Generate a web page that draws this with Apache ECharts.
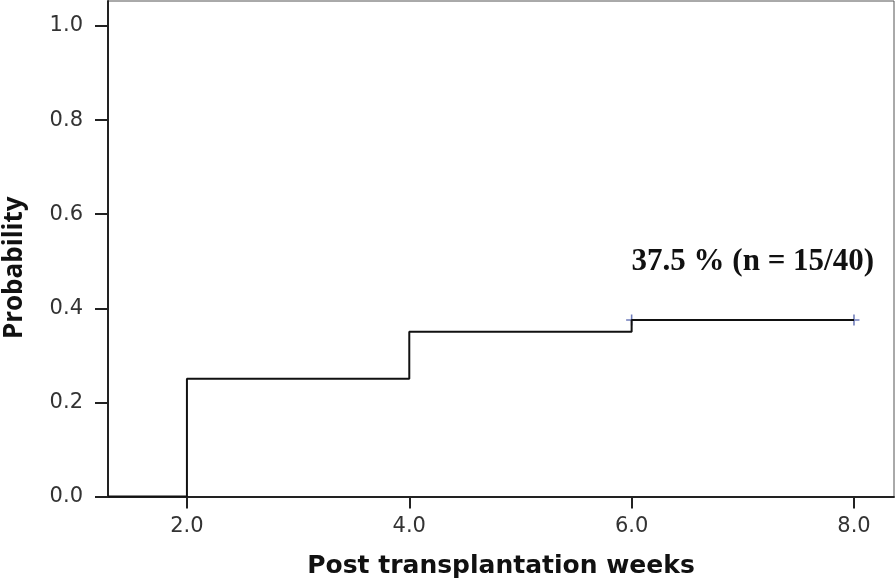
<!DOCTYPE html>
<html>
<head>
<meta charset="utf-8">
<script src="https://cdn.jsdelivr.net/npm/echarts@6/dist/echarts.min.js"></script>
<style>
  html, body { margin: 0; padding: 0; background: #fff; }
  #chart { width: 896px; height: 582px; }
</style>
</head>
<body>
<div id="chart"></div>
<script>
  // cumulative incidence step curve
  var weeks = [1.29, 2, 4, 6, 8]
  var probability = [0, 0.25, 0.35, 0.375, 0.375]
  // censored marks
  var censorWeeks = [6, 8]
  var censorProb = [0.375, 0.375]
  var xTicks = [2, 4, 6, 8]
  var yTicks = [0, 0.2, 0.4, 0.6, 0.8, 1.0]
  var note = '37.5 % (n = 15/40)'

  var chart = echarts.init(document.getElementById('chart'))

  var lineData = weeks.map(function (w, i) { return [w, probability[i]] })
  var censorData = censorWeeks.map(function (w, i) { return [w, censorProb[i]] })

  chart.setOption({
    animation: false,
    grid: {
      left: 108,
      right: 2,
      top: 1,
      bottom: 85.5,
      outerBoundsMode: 'none',
      containLabel: false,
      show: true,
      borderColor: '#555',
      borderWidth: 1
    },
    xAxis: {
      type: 'value',
      min: 1.29,
      max: 8.36,
      name: 'Post transplantation weeks',
      nameLocation: 'middle',
      nameGap: 57,
      nameTextStyle: {
        fontFamily: 'DejaVu Sans',
        fontWeight: 'bold',
        fontSize: 25,
        color: '#111'
      },
      splitLine: { show: false },
      axisLine: { onZero: false, lineStyle: { color: '#222', width: 2 } },
      axisTick: { length: 12, customValues: xTicks, lineStyle: { color: '#222', width: 2 } },
      axisLabel: {
        customValues: xTicks,
        margin: 20,
        fontFamily: 'DejaVu Sans',
        fontSize: 21,
        color: '#333',
        formatter: function (v) { return v.toFixed(1) }
      }
    },
    yAxis: {
      type: 'value',
      min: 0,
      max: 1.053,
      name: 'Probability',
      nameLocation: 'middle',
      nameRotate: 90,
      nameGap: 80,
      nameTextStyle: {
        fontFamily: 'Open Sans',
        fontWeight: 'bold',
        fontSize: 26,
        color: '#111',
        padding: [0, 38, 0, 0]
      },
      splitLine: { show: false },
      axisLine: { lineStyle: { color: '#222', width: 2 } },
      axisTick: { length: 13, customValues: yTicks, lineStyle: { color: '#222', width: 2 } },
      axisLabel: {
        customValues: yTicks,
        margin: 25,
        fontFamily: 'DejaVu Sans',
        fontSize: 21,
        color: '#333',
        formatter: function (v) { return v.toFixed(1) }
      }
    },
    series: [
      {
        type: 'line',
        step: 'end',
        data: lineData,
        symbol: 'none',
        lineStyle: { color: '#111', width: 2 },
        markPoint: {
          symbol: 'rect',
          symbolSize: 0,
          label: {
            show: true,
            formatter: note,
            fontFamily: 'Liberation Serif',
            fontWeight: 'bold',
            fontSize: 31,
            color: '#111'
          },
          data: [{ coord: [7.09, 0.498] }]
        }
      },
      {
        type: 'scatter',
        data: censorData,
        symbol: 'path://M0,4.3 L10,4.3 L10,5.7 L0,5.7 Z M4.3,0 L5.7,0 L5.7,10 L4.3,10 Z',
        symbolSize: 11,
        itemStyle: { color: '#4a5aa8' }
      }
    ]
  })
</script>
</body>
</html>
